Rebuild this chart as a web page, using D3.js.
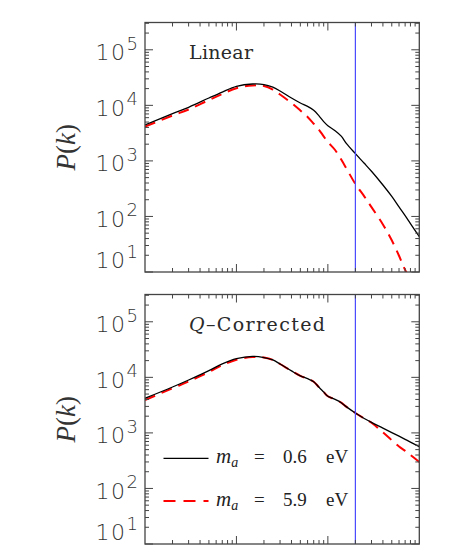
<!DOCTYPE html>
<html><head><meta charset="utf-8">
<script src="https://cdn.jsdelivr.net/npm/d3@7"></script>
<style>body{margin:0;background:#fff}svg{display:block}</style>
</head><body>
<svg id="c" width="463" height="545"></svg>
<script>
// ---- data (k in h/Mpc, P(k)) ----
const kVals = [0.001,0.002,0.003,0.005,0.007,0.01,0.015,0.02,0.025,0.03,0.04,0.05,0.06,0.07,0.08,0.09,0.1,0.12,0.14,0.16,0.2,0.25,0.3,0.4,0.5,0.6,0.7,0.8,1.0];
const linearLow  = [4430,7100,9230,13550,17330,21930,24230,23700,21230,18130,13550,11020,9570,8150,6460,5080,4290,3500,2790,2040,1350,906,650,368,229,148,103,74.3,43.2];
const linearHigh = [4130,6560,8420,12480,16000,20370,22750,22300,19280,15670,11020,8080,6170,4670,3630,2770,2190,1570,1055,724,384,230,147,71.9,37.2,19.6,10.9,7.5,3.5];
const qcorrLow   = [4200,6700,8960,13240,17540,21770,23930,22750,20610,17380,13060,10620,9460,8350,6620,5450,4560,4010,3500,2940,2280,1820,1545,1220,1012,873,767,683,565];
const qcorrHigh  = [3910,6350,8420,12480,16550,20700,23230,22750,20610,17380,13060,10620,9460,8350,6620,5450,4560,4010,3500,2940,2280,1820,1520,1026,736,569,474,400,299];
const kLine = 0.2;
const yTickVals = [10,100,1000,10000,100000];
const yTickExp  = ["1","2","3","4","5"];
const panelTitles = ["Linear", "Q–Corrected"];
const legendLabels = ["0.6 eV", "5.9 eV"];

const svg = d3.select("#c");
const X0 = 145, X1 = 419.3;
const x = d3.scaleLog().domain([0.001, 1]).range([X0, X1]);

const panels = [
  {top:22.5, bot:272, low:linearLow, high:linearHigh, title:panelTitles[0]},
  {top:294.5, bot:544, low:qcorrLow, high:qcorrHigh, title:panelTitles[1]}
];

const xMinor = [], yMinor = [];
for (let e=-3;e<0;e++) for (let m=2;m<=9;m++) xMinor.push(m*Math.pow(10,e));
for (let e=1;e<6;e++) for (let m=2;m<=9;m++) { const v=m*Math.pow(10,e); if (v<=3.1e5) yMinor.push(v); }
const xMajor = [0.01, 0.1];

panels.forEach((p,i)=>{
  const y = d3.scaleLog().domain([10, 3.1e5]).range([p.bot, p.top]);
  const g = svg.append("g");
  const cid = "clip"+i;
  svg.append("clipPath").attr("id",cid).append("rect")
    .attr("x",X0).attr("y",p.top).attr("width",X1-X0).attr("height",p.bot-p.top);

  const line = d3.line().x((d,j)=>x(kVals[j])).y(d=>y(d)).curve(d3.curveCatmullRom);
  g.append("path").attr("clip-path",`url(#${cid})`).attr("d",line(p.high))
    .attr("fill","none").attr("stroke","#ff0000").attr("stroke-width",2).attr("stroke-dasharray","11,7");
  g.append("path").attr("clip-path",`url(#${cid})`).attr("d",line(p.low))
    .attr("fill","none").attr("stroke","#000").attr("stroke-width",1.3);

  g.append("line").attr("x1",x(kLine)).attr("x2",x(kLine)).attr("y1",p.top).attr("y2",p.bot)
    .attr("stroke","#4a4aff").attr("stroke-width",1.2);

  g.append("rect").attr("x",X0).attr("y",p.top).attr("width",X1-X0).attr("height",p.bot-p.top)
    .attr("fill","none").attr("stroke","#444").attr("stroke-width",1.3);

  const tk = g.append("g").attr("stroke","#444").attr("stroke-width",1);
  xMinor.forEach(v=>{
    tk.append("line").attr("x1",x(v)).attr("x2",x(v)).attr("y1",p.bot).attr("y2",p.bot-4);
    tk.append("line").attr("x1",x(v)).attr("x2",x(v)).attr("y1",p.top).attr("y2",p.top+4);
  });
  xMajor.forEach(v=>{
    tk.append("line").attr("x1",x(v)).attr("x2",x(v)).attr("y1",p.bot).attr("y2",p.bot-8);
    tk.append("line").attr("x1",x(v)).attr("x2",x(v)).attr("y1",p.top).attr("y2",p.top+8);
  });
  yMinor.forEach(v=>{
    tk.append("line").attr("x1",X0).attr("x2",X0+4).attr("y1",y(v)).attr("y2",y(v));
    tk.append("line").attr("x1",X1).attr("x2",X1-4).attr("y1",y(v)).attr("y2",y(v));
  });
  yTickVals.forEach(v=>{
    tk.append("line").attr("x1",X0).attr("x2",X0+8).attr("y1",y(v)).attr("y2",y(v));
    tk.append("line").attr("x1",X1).attr("x2",X1-8).attr("y1",y(v)).attr("y2",y(v));
  });

  yTickVals.forEach((v,j)=>{
    const base = y(v) + (j===0 ? -4 : 10.5);
    const t = g.append("text").attr("x",138).attr("y",base).attr("text-anchor","end")
      .attr("font-family","'DejaVu Sans', sans-serif").attr("font-weight",200)
      .attr("fill","#333");
    t.append("tspan").attr("font-size",22).attr("letter-spacing",1.5).text("10");
    t.append("tspan").attr("font-size",18).attr("dy",-10.5).text(yTickExp[j]);
  });

  const cy = (p.top+p.bot)/2;
  const yt = g.append("text").attr("transform",`translate(75,${cy}) rotate(-90)`)
    .attr("text-anchor","middle").attr("font-family","'Liberation Serif', serif").attr("font-size",27).attr("fill","#333");
  yt.append("tspan").attr("font-style","italic").text("P");
  yt.append("tspan").text("(");
  yt.append("tspan").attr("font-style","italic").text("k");
  yt.append("tspan").text(")");

  const tt = g.append("text").attr("x",189).attr("y", i===0 ? 58.5 : 330.5)
    .attr("font-family","'DejaVu Serif', serif").attr("font-size",19).attr("fill","#2a2a2a")
    .attr("textLength", i===0 ? 64 : 136).attr("lengthAdjust","spacing");
  if (i===0) tt.text(p.title);
  else {
    tt.append("tspan").attr("font-style","italic").text(p.title.slice(0,1));
    tt.append("tspan").text(p.title.slice(1));
  }
});

const legend = [
  {y:458.3, color:"#000", dash:null, w:1.3, label:legendLabels[0]},
  {y:501, color:"#ff0000", dash:"12,8", w:2, label:legendLabels[1]}
];
legend.forEach(l=>{
  svg.append("line").attr("x1",163.5).attr("x2",208.5).attr("y1",l.y).attr("y2",l.y)
    .attr("stroke",l.color).attr("stroke-width",l.w).attr("stroke-dasharray",l.dash);
  const t = svg.append("text").attr("y",l.y+5).attr("font-family","'Liberation Serif', serif").attr("font-size",19).attr("fill","#222");
  t.append("tspan").attr("x",216).attr("font-style","italic").attr("font-size",21).text("m");
  t.append("tspan").attr("font-style","italic").attr("font-size",14).attr("dy",4).text("a");
  t.append("tspan").attr("x",254).attr("dy",-4).text("=");
  const parts = l.label.split(" ");
  t.append("tspan").attr("x",283).text(parts[0]);
  t.append("tspan").attr("x",326).text(parts[1]);
});
</script>
</body></html>
